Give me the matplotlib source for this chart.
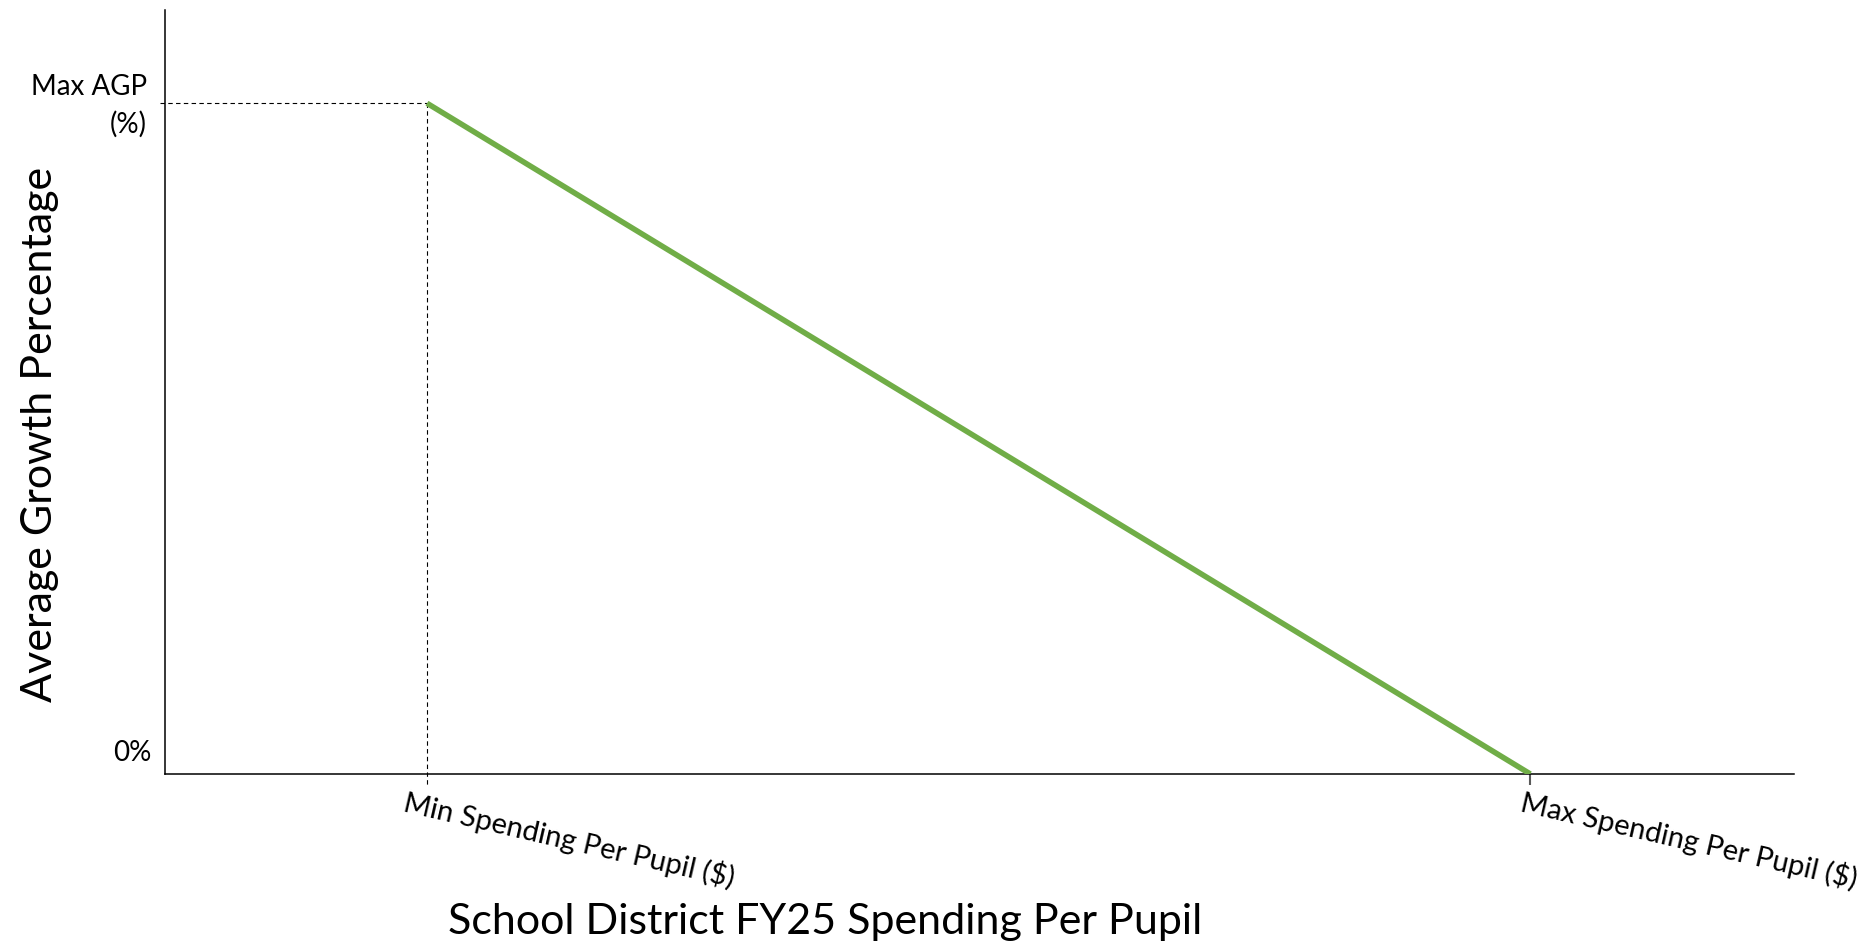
import matplotlib.pyplot as plt
from matplotlib.transforms import ScaledTranslation

# data: two anchor points of the sliding scale
spending = [0, 1]  # min, max spending per pupil (relative positions)
agp = [1, 0]       # max AGP at min spending, 0% at max spending
x_tick_labels = ["Min Spending Per Pupil ($)", "Max Spending Per Pupil ($)"]
y_tick_labels = ["0%", "Max AGP\n(%)"]
y_ticks = [0, 1]

plt.rcParams['font.family'] = ['Lato', 'DejaVu Sans']

fig = plt.figure(figsize=(18.75, 9.47), dpi=100)
ax = fig.add_axes([0.088, 0.1827, 0.8688, 0.8067])

# main green line
ax.plot(spending, agp, color='#70AD47', lw=4, solid_capstyle='butt', zorder=3)

# dashed guides to the max point
ax.plot([-0.242, spending[0]], [agp[0], agp[0]], color='black', lw=0.8,
        ls=(0, (4, 3)), clip_on=False)
ax.plot([spending[0], spending[0]], [agp[0], -0.016], color='black', lw=0.8,
        ls=(0, (4, 3)), clip_on=False)

ax.set_xlim(-0.2375, 1.239)
ax.set_ylim(0, 1.139)

for s in ['top', 'right']:
    ax.spines[s].set_visible(False)
for s in ['left', 'bottom']:
    ax.spines[s].set_linewidth(1.1)

ax.set_xticks(spending, x_tick_labels, fontsize=21, rotation=-13,
              ha='left', va='top', rotation_mode='anchor')
ax.tick_params(axis='x', length=8, width=1.5, color='#595959', pad=2)
ax.xaxis.get_major_ticks()[0].tick1line.set_visible(False)
offs = [-20, -6]
for lab, dx in zip(ax.get_xticklabels(), offs):
    lab.set_transform(lab.get_transform() + ScaledTranslation(dx / 100, 0, fig.dpi_scale_trans))

ax.set_yticks(y_ticks, y_tick_labels, fontsize=20)
ax.tick_params(axis='y', length=0, pad=13)
for lab in ax.get_yticklabels():
    lab.set_multialignment('right')
    lab.set_linespacing(1.5)
zero_lab, max_lab = ax.get_yticklabels()
zero_lab.set_transform(zero_lab.get_transform() + ScaledTranslation(0.05, 0.23, fig.dpi_scale_trans))
max_lab.set_transform(max_lab.get_transform() + ScaledTranslation(0, 0.05, fig.dpi_scale_trans))

ax.set_xlabel("School District FY25 Spending Per Pupil", fontsize=31, va='center')
ax.xaxis.set_label_coords(0.405, -0.194)
ax.set_ylabel("Average Growth Percentage", fontsize=31, va='center')
ax.yaxis.set_label_coords(-0.077, 0.444)

fig.savefig('out.png', dpi=100)
